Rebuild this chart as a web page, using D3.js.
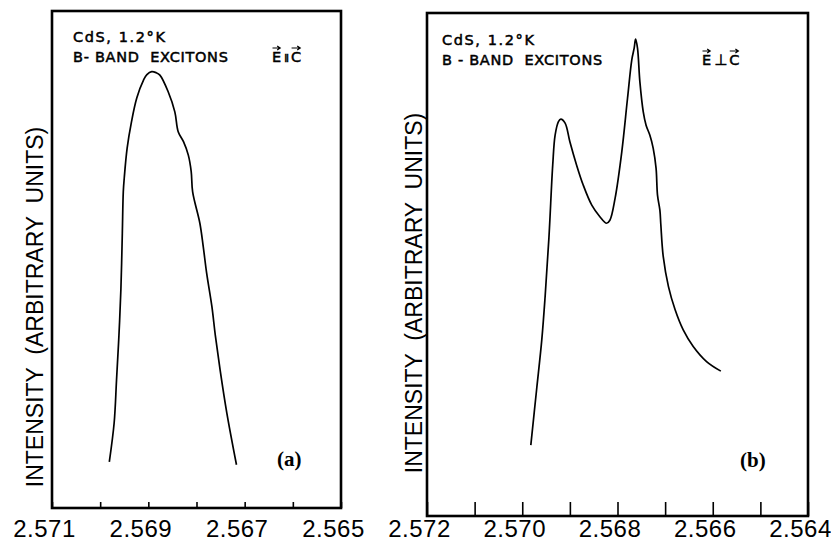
<!DOCTYPE html>
<html>
<head>
<meta charset="utf-8">
<script src="https://cdn.jsdelivr.net/npm/d3@7"></script>
<style>
  body { margin: 0; background: #fff; }
  text { fill: #000; white-space: pre; }
</style>
</head>
<body>
<svg id="chart" width="831" height="542"></svg>
<script>
// photon energy (eV) and intensity (arb. units, 0-100 of the frame height)
var leftEnergy = [2.56981, 2.56971, 2.56966, 2.56961, 2.56957, 2.56954, 2.56952, 2.56950, 2.56944, 2.56935,
  2.56924, 2.56910, 2.56903, 2.56893, 2.56884, 2.56876, 2.56859, 2.56845, 2.56838, 2.56827,
  2.56817, 2.56811, 2.56808, 2.56793, 2.56786, 2.56779, 2.56768, 2.56761, 2.56751, 2.56737, 2.56717];
var leftIntensity = [9.3, 17.1, 25.8, 34.8, 43.9, 55.3, 63.6, 66.4, 72.4, 77.7,
  82.5, 86.1, 87.2, 87.8, 87.6, 87.1, 83.8, 79.7, 75.7, 73.7,
  71.0, 67.7, 63.6, 57.3, 52.6, 47.3, 40.5, 34.8, 27.8, 19.1, 8.7];

var rightEnergy = [2.56982, 2.56970, 2.56959, 2.56952, 2.56944, 2.56936, 2.56931, 2.56924, 2.56919, 2.56910,
  2.56900, 2.56886, 2.56872, 2.56854, 2.56837, 2.56823, 2.56816, 2.56805, 2.56791, 2.56779,
  2.56770, 2.56765, 2.56762, 2.56758, 2.56753, 2.56746, 2.56740, 2.56732, 2.56725, 2.56719,
  2.56716, 2.56711, 2.56709, 2.56704, 2.56693, 2.56679, 2.56662, 2.56641, 2.56613, 2.56583];
var rightIntensity = [14.1, 25.0, 35.0, 43.6, 55.3, 69.8, 75.7, 78.4, 78.9, 78.1,
  74.4, 69.8, 65.8, 61.8, 59.5, 58.2, 58.8, 63.2, 72.4, 83.0,
  90.7, 93.0, 94.8, 93.0, 86.3, 80.4, 77.7, 75.7, 73.1, 69.1,
  63.8, 60.8, 57.9, 51.6, 45.6, 41.0, 37.0, 33.7, 30.7, 28.8];

var leftTicks = [2.571, 2.570, 2.569, 2.568, 2.567, 2.566, 2.565];
var leftTickLabels = ["2.571", "2.569", "2.567", "2.565"];
var rightTicks = [2.572, 2.571, 2.570, 2.569, 2.568, 2.567, 2.566, 2.565, 2.564];
var rightTickLabels = ["2.572", "2.570", "2.568", "2.566", "2.564"];

var titleLine1 = "CdS, 1.2°K";
var leftTitleLine2 = "B- BAND  EXCITONS";
var rightTitleLine2 = "B - BAND  EXCITONS";
var yLabel = "INTENSITY  (ARBITRARY  UNITS)";

var svg = d3.select("#chart");

var panels = [
  { energy: leftEnergy, intensity: leftIntensity, ticks: leftTicks, labels: leftTickLabels,
    left: 52, right: 341, top: 11, bottom: 508, tickLen: 6,
    yLabelX: 43, yLabelY: 307,
    titleX: 73, title1Y: 42, title2Y: 62, line2: leftTitleLine2,
    vecX: 272, vecY: 62, vec: "II", vecSize: 10,
    tag: "(a)", tagX: 277, tagY: 466 },
  { energy: rightEnergy, intensity: rightIntensity, ticks: rightTicks, labels: rightTickLabels,
    left: 427, right: 808, top: 13, bottom: 516, tickLen: 14,
    yLabelX: 422, yLabelY: 293,
    titleX: 442, title1Y: 45, title2Y: 65, line2: rightTitleLine2,
    vecX: 702, vecY: 65, vec: "\u22A5", vecSize: 15,
    tag: "(b)", tagX: 740, tagY: 467 }
];

panels.forEach(function(p) {
  var x = d3.scaleLinear()
    .domain([p.ticks[0], p.ticks[p.ticks.length - 1]])
    .range([p.left, p.right]);
  var y = d3.scaleLinear().domain([0, 100]).range([p.bottom, p.top]);
  var g = svg.append("g");

  // ticks point inward, labels on every other tick
  var axis = d3.axisBottom(x)
    .tickValues(p.ticks)
    .tickSizeInner(-p.tickLen)
    .tickSizeOuter(0)
    .tickFormat(function(d) {
      var s = d3.format(".3f")(d);
      return p.labels.indexOf(s) >= 0 ? s : "";
    });

  var ax = g.append("g")
    .attr("transform", `translate(0, ${p.bottom})`)
    .call(axis);
  ax.select(".domain").remove();
  ax.selectAll("line").attr("stroke", "#000").attr("stroke-width", 1.6);
  ax.selectAll("text")
    .attr("y", 537 - p.bottom)
    .attr("dy", 0)
    .attr("dx", -8)
    .attr("fill", "#000")
    .style("font-family", "'Liberation Sans', Arial, sans-serif")
    .style("font-size", "24px")
    .style("letter-spacing", "0.5px");

  // frame
  g.append("rect")
    .attr("x", p.left).attr("y", p.top)
    .attr("width", p.right - p.left).attr("height", p.bottom - p.top)
    .attr("fill", "none").attr("stroke", "#000").attr("stroke-width", 2.6);

  // spectrum
  var pts = p.energy.map(function(e, i) { return [e, p.intensity[i]]; });
  var line = d3.line()
    .x(d => x(d[0]))
    .y(d => y(d[1]))
    .curve(d3.curveCatmullRom.alpha(0.5));
  g.append("path")
    .datum(pts)
    .attr("d", line)
    .attr("fill", "none")
    .attr("stroke", "#000")
    .attr("stroke-width", 1.7)
    .attr("stroke-linejoin", "round");

  // y label
  g.append("text")
    .attr("transform", `translate(${p.yLabelX}, ${p.yLabelY}) rotate(-90)`)
    .attr("text-anchor", "middle")
    .style("font-family", "'Liberation Sans', Arial, sans-serif")
    .style("font-size", "23px")
    .text(yLabel);

  // titles
  var titleFont = "'DejaVu Sans', sans-serif";
  function title(tx, ty, s, spacing) {
    return g.append("text")
      .attr("x", tx).attr("y", ty)
      .style("font-family", titleFont).style("font-size", "14.5px")
      .style("letter-spacing", spacing)
      .attr("stroke", "#000").attr("stroke-width", 0.5)
      .text(s);
  }
  title(p.titleX, p.title1Y, titleLine1, "1.6px");
  title(p.titleX, p.title2Y, p.line2, "0.7px");

  // vector notation with arrows over E and C
  var parts = [{ t: "E", arrow: true, size: 14.5 }, { t: p.vec, arrow: false, size: p.vecSize }, { t: "C", arrow: true, size: 14.5 }];
  var cx = p.vecX;
  parts.forEach(function(part) {
    var t = g.append("text")
      .attr("x", cx).attr("y", p.vecY)
      .style("font-family", titleFont).style("font-size", part.size + "px")
      .style("letter-spacing", part.arrow ? "0px" : "-1px")
      .attr("stroke", "#000").attr("stroke-width", 0.5)
      .text(part.t);
    var w = t.node().getComputedTextLength();
    if (part.arrow) {
      var ay = p.vecY - 14;
      var x1 = cx + 0.5, x2 = cx + w - 1;
      g.append("path")
        .attr("d", `M${x1},${ay}L${x2},${ay}M${x2 - 3},${ay - 2}L${x2},${ay}L${x2 - 3},${ay + 2}`)
        .attr("fill", "none").attr("stroke", "#000").attr("stroke-width", 1.2);
    }
    cx += w + 3;
  });

  // panel tag
  g.append("text")
    .attr("x", p.tagX).attr("y", p.tagY)
    .style("font-family", "'Liberation Serif', 'Times New Roman', serif")
    .style("font-size", "21px")
    .style("font-weight", "bold")
    .text(p.tag);
});
</script>
</body>
</html>
